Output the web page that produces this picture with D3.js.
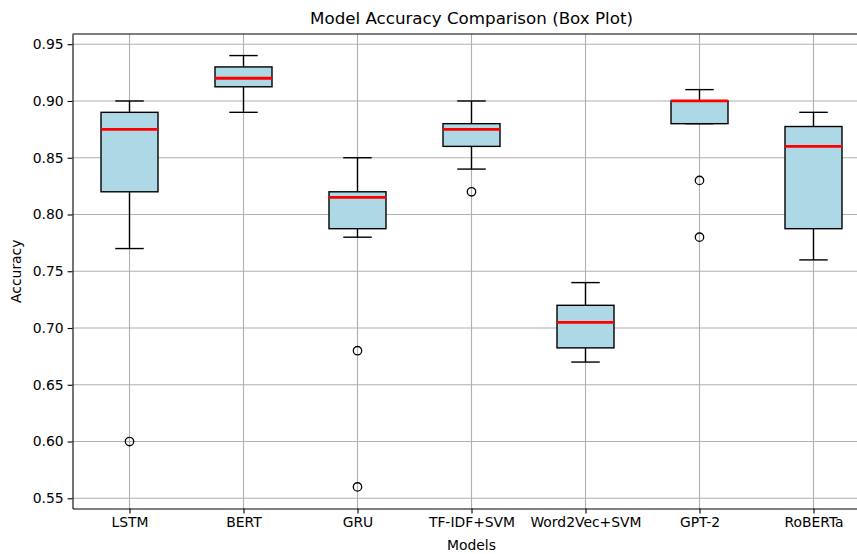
<!DOCTYPE html>
<html>
<head>
<meta charset="utf-8">
<script src="https://cdn.jsdelivr.net/npm/d3@7"></script>
<style>
  html, body { margin: 0; padding: 0; background: #fff; }
  svg { display: block; font-family: "DejaVu Sans", sans-serif; }
</style>
</head>
<body>
<div id="chart"></div>
<script>
// box plot stats
const models = ["LSTM", "BERT", "GRU", "TF-IDF+SVM", "Word2Vec+SVM", "GPT-2", "RoBERTa"];
const whiskerLow = [0.77, 0.89, 0.78, 0.84, 0.67, 0.88, 0.76];
const q1 = [0.82, 0.9125, 0.7875, 0.86, 0.6825, 0.88, 0.7875];
const medians = [0.875, 0.92, 0.815, 0.875, 0.705, 0.90, 0.86];
const q3 = [0.89, 0.93, 0.82, 0.88, 0.72, 0.90, 0.8775];
const whiskerHigh = [0.90, 0.94, 0.85, 0.90, 0.74, 0.91, 0.89];
const outliers = [[0.60], [], [0.68, 0.56], [0.82], [], [0.83, 0.78], []];
const yTicks = [0.55, 0.60, 0.65, 0.70, 0.75, 0.80, 0.85, 0.90, 0.95];

const W = 857, H = 554;
const margin = { top: 34, left: 72.5, bottom: 45.5 };
const plotRight = 870.5; // right spine falls just outside the picture

const svg = d3.select("#chart").append("svg")
  .attr("width", W)
  .attr("height", H);

const x = d3.scaleLinear().domain([0.5, 7.5]).range([margin.left, plotRight]);
const y = d3.scaleLinear().domain([0.541, 0.959]).range([H - margin.bottom, margin.top]);
const pos = (i) => x(i + 1);
const boxW = x(1.25) - x(1);
const capW = x(1.125) - x(1);

// grid
const grid = svg.append("g");
grid.selectAll(".gy").data(yTicks).join("line")
  .attr("x1", margin.left).attr("x2", plotRight)
  .attr("y1", (d) => y(d)).attr("y2", (d) => y(d))
  .attr("stroke", "#b0b0b0").attr("stroke-width", 1.1);
grid.selectAll(".gx").data(models).join("line")
  .attr("x1", (d, i) => pos(i)).attr("x2", (d, i) => pos(i))
  .attr("y1", margin.top).attr("y2", H - margin.bottom)
  .attr("stroke", "#b0b0b0").attr("stroke-width", 1.1);

// boxes
const box = svg.selectAll(".box").data(models).join("g").attr("class", "box");

box.append("line") // whisker low
  .attr("x1", (d, i) => pos(i)).attr("x2", (d, i) => pos(i))
  .attr("y1", (d, i) => y(q1[i])).attr("y2", (d, i) => y(whiskerLow[i]))
  .attr("stroke", "#000").attr("stroke-width", 1.4);
box.append("line") // whisker high
  .attr("x1", (d, i) => pos(i)).attr("x2", (d, i) => pos(i))
  .attr("y1", (d, i) => y(q3[i])).attr("y2", (d, i) => y(whiskerHigh[i]))
  .attr("stroke", "#000").attr("stroke-width", 1.4);
box.append("line") // cap low
  .attr("x1", (d, i) => pos(i) - capW).attr("x2", (d, i) => pos(i) + capW)
  .attr("y1", (d, i) => y(whiskerLow[i])).attr("y2", (d, i) => y(whiskerLow[i]))
  .attr("stroke", "#000").attr("stroke-width", 1.4);
box.append("line") // cap high
  .attr("x1", (d, i) => pos(i) - capW).attr("x2", (d, i) => pos(i) + capW)
  .attr("y1", (d, i) => y(whiskerHigh[i])).attr("y2", (d, i) => y(whiskerHigh[i]))
  .attr("stroke", "#000").attr("stroke-width", 1.4);

box.append("rect")
  .attr("x", (d, i) => pos(i) - boxW)
  .attr("y", (d, i) => y(q3[i]))
  .attr("width", boxW * 2)
  .attr("height", (d, i) => y(q1[i]) - y(q3[i]))
  .attr("fill", "#add8e6")
  .attr("stroke", "#000").attr("stroke-width", 1.4);

box.append("line") // median
  .attr("x1", (d, i) => pos(i) - boxW).attr("x2", (d, i) => pos(i) + boxW)
  .attr("y1", (d, i) => y(medians[i])).attr("y2", (d, i) => y(medians[i]))
  .attr("stroke", "red").attr("stroke-width", 2.8);

box.each(function (d, i) {
  d3.select(this).selectAll("circle").data(outliers[i]).join("circle")
    .attr("cx", pos(i))
    .attr("cy", (v) => y(v))
    .attr("r", 4.2)
    .attr("fill", "none")
    .attr("stroke", "#000").attr("stroke-width", 1.3);
});

// axes
const xAxis = d3.axisBottom(x)
  .tickValues(models.map((d, i) => i + 1))
  .tickFormat((d) => models[d - 1])
  .tickSize(4.9).tickSizeOuter(0).tickPadding(4);
const yAxis = d3.axisLeft(y)
  .tickValues(yTicks)
  .tickFormat(d3.format(".2f"))
  .tickSize(4.9).tickSizeOuter(0).tickPadding(4);

const gx = svg.append("g")
  .attr("transform", `translate(0,${H - margin.bottom})`)
  .call(xAxis);
const gy = svg.append("g")
  .attr("transform", `translate(${margin.left},0)`)
  .call(yAxis);

[gx, gy].forEach((g) => {
  g.select(".domain").attr("stroke", "#000").attr("stroke-width", 1.1);
  g.selectAll(".tick line").attr("stroke", "#000").attr("stroke-width", 1.1);
  g.selectAll(".tick text")
    .attr("fill", "#000")
    .style("font-family", "DejaVu Sans")
    .style("font-size", "13.9px");
});

// top spine
svg.append("line")
  .attr("x1", margin.left).attr("x2", plotRight)
  .attr("y1", margin.top).attr("y2", margin.top)
  .attr("stroke", "#000").attr("stroke-width", 1.1);

// labels
svg.append("text")
  .attr("x", (margin.left + plotRight) / 2)
  .attr("y", 24)
  .attr("text-anchor", "middle")
  .style("font-size", "16.7px")
  .text("Model Accuracy Comparison (Box Plot)");

svg.append("text")
  .attr("x", (margin.left + plotRight) / 2)
  .attr("y", 550)
  .attr("text-anchor", "middle")
  .style("font-size", "13.9px")
  .text("Models");

svg.append("text")
  .attr("transform", `translate(21,${(margin.top + H - margin.bottom) / 2}) rotate(-90)`)
  .attr("text-anchor", "middle")
  .style("font-size", "13.9px")
  .text("Accuracy");
</script>
</body>
</html>
